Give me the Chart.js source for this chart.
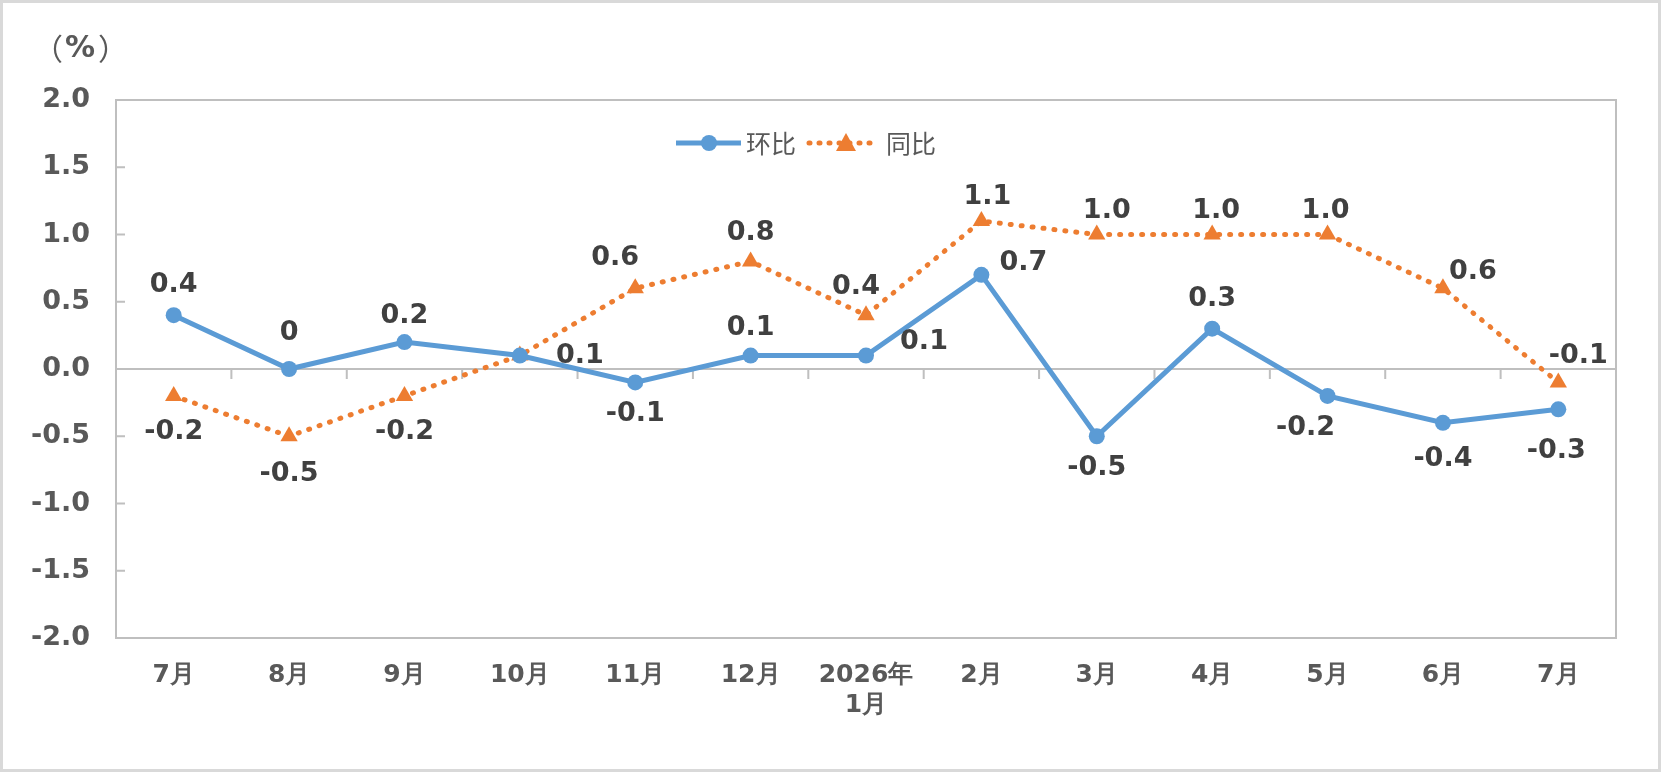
<!DOCTYPE html>
<html><head><meta charset="utf-8">
<script src="https://cdn.jsdelivr.net/npm/chart.js@4/dist/chart.umd.min.js"></script>
<style>
html,body{margin:0;padding:0;background:#fff;}
#wrap{position:absolute;left:0;top:0;width:1655px;height:766px;border:3px solid #d9d9d9;}
</style></head><body>
<div id="wrap"><canvas id="c" width="1655" height="766"></canvas></div>
<script>
const months = ['7月','8月','9月','10月','11月','12月',['2026年','1月'],'2月','3月','4月','5月','6月','7月'];
const mom = [0.4, 0, 0.2, 0.1, -0.1, 0.1, 0.1, 0.7, -0.5, 0.3, -0.2, -0.4, -0.3];
const yoy = [-0.2, -0.5, -0.2, 0.1, 0.6, 0.8, 0.4, 1.1, 1.0, 1.0, 1.0, 0.6, -0.1];
const yTicks = [2.0, 1.5, 1.0, 0.5, 0.0, -0.5, -1.0, -1.5, -2.0];
// label placement per point: [dx, dy]
const momPos = [[0,-30],[0,-36],[0,-26],[60,0],[0,32],[0,-28],[58,-14],[42,-12],[0,32],[0,-30],[-22,32],[0,36],[-2,42]];
const yoyPos = [[0,36],[0,38],[0,36],null,[-20,-30],[0,-28],[-10,-28],[6,-24],[10,-24],[4,-24],[-2,-24],[30,-16],[20,-26]];
const FONT = 'bold 27px "DejaVu Sans", sans-serif';
const GREY = '#595959';

const deco = {
  id: 'deco',
  beforeDatasetsDraw(chart) {
    const {ctx, chartArea: a, scales: {x, y}} = chart;
    ctx.save();
    ctx.strokeStyle = '#bfbfbf'; ctx.lineWidth = 2;
    ctx.strokeRect(a.left, a.top, a.right - a.left, a.bottom - a.top);
    const y0 = y.getPixelForValue(0);
    ctx.beginPath(); ctx.moveTo(a.left, y0); ctx.lineTo(a.right, y0); ctx.stroke();
    ctx.beginPath();
    yTicks.forEach(v => { const p = y.getPixelForValue(v); ctx.moveTo(a.left, p); ctx.lineTo(a.left + 9, p); });
    for (let i = 1; i < months.length; i++) {
      const p = (x.getPixelForValue(i - 1) + x.getPixelForValue(i)) / 2;
      ctx.moveTo(p, y0); ctx.lineTo(p, y0 + 10);
    }
    ctx.stroke();
    ctx.fillStyle = GREY; ctx.font = 'bold 30px "DejaVu Sans", sans-serif';
    ctx.textAlign = 'center'; ctx.textBaseline = 'middle';
    ctx.fillText('%', 77, 46);
    ctx.font = '30px "Noto Sans CJK SC", sans-serif';
    ctx.fillText('（', 45, 46); ctx.fillText('）', 110, 46);
    // legend
    const ly = 140;
    ctx.lineWidth = 5; ctx.strokeStyle = '#5b9bd5';
    ctx.beginPath(); ctx.moveTo(673, ly); ctx.lineTo(738, ly); ctx.stroke();
    ctx.fillStyle = '#5b9bd5'; ctx.beginPath(); ctx.arc(706, ly, 8, 0, Math.PI * 2); ctx.fill();
    ctx.fillStyle = GREY; ctx.font = '25px "Noto Sans CJK SC", sans-serif'; ctx.textAlign = 'left';
    ctx.fillText('环比', 743, ly);
    ctx.strokeStyle = '#ed7d31'; ctx.setLineDash([1, 9]); ctx.lineCap = 'round';
    ctx.beginPath(); ctx.moveTo(806, ly); ctx.lineTo(868, ly); ctx.stroke();
    ctx.setLineDash([]);
    ctx.fillStyle = '#ed7d31'; ctx.beginPath();
    ctx.moveTo(843, ly - 10); ctx.lineTo(853, ly + 8); ctx.lineTo(833, ly + 8); ctx.closePath(); ctx.fill();
    ctx.fillStyle = GREY; ctx.fillText('同比', 883, ly);
    ctx.restore();
  },
  afterDatasetsDraw(chart) {
    const {ctx} = chart;
    ctx.save();
    ctx.font = FONT; ctx.fillStyle = '#404040'; ctx.textAlign = 'center'; ctx.textBaseline = 'middle';
    [[0, mom, momPos], [1, yoy, yoyPos]].forEach(([di, data, pos]) => {
      chart.getDatasetMeta(di).data.forEach((pt, i) => {
        if (!pos[i]) return;
        const v = data[i];
        const t = v === 0 ? '0' : v.toFixed(1);
        ctx.fillText(t, pt.x + pos[i][0], pt.y + pos[i][1]);
      });
    });
    ctx.restore();
  }
};

new Chart(document.getElementById('c'), {
  type: 'line',
  data: {
    labels: months,
    datasets: [
      { label: '环比', data: mom, borderColor: '#5b9bd5', backgroundColor: '#5b9bd5', borderWidth: 5,
        pointRadius: 8, pointHoverRadius: 8, pointBorderWidth: 0, tension: 0 },
      { label: '同比', data: yoy, borderColor: '#ed7d31', backgroundColor: '#ed7d31', borderWidth: 5,
        borderDash: [1, 10], borderCapStyle: 'round', pointStyle: 'triangle', pointRadius: 10, pointHoverRadius: 10,
        pointBorderWidth: 0, tension: 0 }
    ]
  },
  options: {
    responsive: false, animation: false,
    layout: { padding: { left: 0, right: 42, top: 97, bottom: 0 } },
    plugins: { legend: { display: false }, tooltip: { enabled: false } },
    scales: {
      x: {
        offset: true,
        grid: { display: false }, border: { display: false },
        ticks: { color: GREY, font: { family: 'DejaVu Sans', size: 25, weight: 'bold' }, padding: 14, maxRotation: 0 },
        afterFit(s) { s.height = 131; }
      },
      y: {
        min: -2, max: 2,
        grid: { display: false }, border: { display: false },
        afterBuildTicks(s) { s.ticks = yTicks.map(v => ({ value: v })); },
        ticks: { color: GREY, font: { family: 'DejaVu Sans', size: 27, weight: 'bold' }, padding: 18,
          callback: v => v.toFixed(1) },
        afterFit(s) { s.width = 113; }
      }
    }
  },
  plugins: [deco]
});
</script>
</body></html>
